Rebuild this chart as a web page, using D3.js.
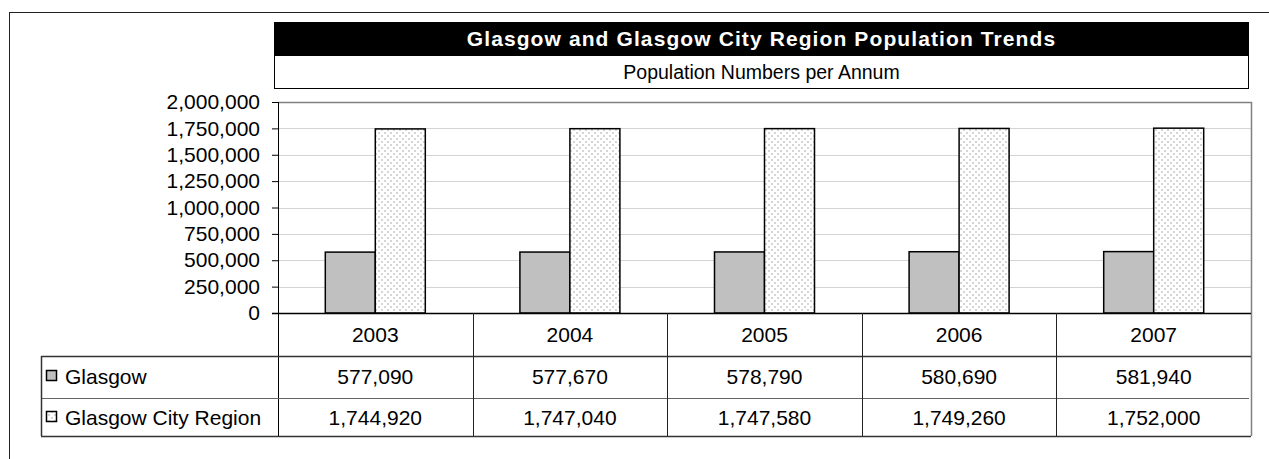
<!DOCTYPE html>
<html>
<head>
<meta charset="utf-8">
<script src="https://cdnjs.cloudflare.com/ajax/libs/d3/7.8.5/d3.min.js"></script>
<style>
  body { margin: 0; background: #fff; overflow: hidden; }
  svg { display: block; font-family: "Liberation Sans", Arial, sans-serif; }
</style>
</head>
<body>
<svg id="chart"></svg>
<script>
const years = ['2003', '2004', '2005', '2006', '2007'];
const seriesNames = ['Glasgow', 'Glasgow City Region'];
const glasgow = [577090, 577670, 578790, 580690, 581940];
const cityRegion = [1744920, 1747040, 1747580, 1749260, 1752000];
const yTicks = [0, 250000, 500000, 750000, 1000000, 1250000, 1500000, 1750000, 2000000];
const titleText = 'Glasgow and Glasgow City Region Population Trends';
const subtitleText = 'Population Numbers per Annum';

const width = 1269, height = 459;
const plot = { left: 278, right: 1251, top: 102, bottom: 313 };
const table = { left: 41, rowTops: [313, 356, 398, 436] };

const svg = d3.select('#chart').attr('width', width).attr('height', height);

// dotted fill for the city region series
const defs = svg.append('defs');
const pat = defs.append('pattern')
    .attr('id', 'dots')
    .attr('patternUnits', 'userSpaceOnUse')
    .attr('width', 6).attr('height', 6);
pat.append('rect').attr('width', 6).attr('height', 6).attr('fill', '#fff');
pat.append('rect').attr('x', 0).attr('y', 0).attr('width', 2).attr('height', 2).attr('fill', '#d6d6d6');
pat.append('rect').attr('x', 3).attr('y', 3).attr('width', 2).attr('height', 2).attr('fill', '#d6d6d6');

const fills = ['#c0c0c0', 'url(#dots)'];

// outer frame (runs off the right and bottom of the picture)
svg.append('rect')
    .attr('x', 9.5).attr('y', 12.5)
    .attr('width', 1400).attr('height', 600)
    .attr('fill', 'none').attr('stroke', '#222');

// title boxes
svg.append('rect')
    .attr('x', 274).attr('y', 22).attr('width', 975).attr('height', 33)
    .attr('fill', '#000');
svg.append('text')
    .attr('x', 761.5).attr('y', 45.5)
    .attr('text-anchor', 'middle')
    .attr('fill', '#fff')
    .attr('font-weight', 'bold')
    .attr('font-size', 21)
    .attr('letter-spacing', 1.1)
    .text(titleText);

svg.append('rect')
    .attr('x', 274.5).attr('y', 55.5).attr('width', 974).attr('height', 33)
    .attr('fill', '#fff').attr('stroke', '#000');
svg.append('text')
    .attr('x', 761.5).attr('y', 79)
    .attr('text-anchor', 'middle')
    .attr('fill', '#000')
    .attr('font-size', 19.5)
    .text(subtitleText);

// scales
const x = d3.scaleBand().domain(years).range([plot.left, plot.right]);
const xs = d3.scaleBand().domain(seriesNames)
    .range([0, x.bandwidth()])
    .paddingInner(0).paddingOuter(0.946);
const y = d3.scaleLinear().domain([0, 2000000]).range([plot.bottom, plot.top]);

// gridlines
svg.append('g')
    .selectAll('line')
    .data(yTicks.slice(1, -1))
    .join('line')
    .attr('x1', plot.left).attr('x2', plot.right)
    .attr('y1', d => Math.round(y(d)) + 0.5).attr('y2', d => Math.round(y(d)) + 0.5)
    .attr('stroke', '#d4d4d4');

// plot area border (top & right)
svg.append('path')
    .attr('d', `M${plot.left},${plot.top + 0.5}H${plot.right + 0.5}V${table.rowTops[3]}`)
    .attr('fill', 'none').attr('stroke', '#808080').attr('stroke-width', 1.5);

// bars
const series = [glasgow, cityRegion];
series.forEach((vals, si) => {
    svg.append('g')
        .selectAll('rect')
        .data(vals)
        .join('rect')
        .attr('x', (d, i) => x(years[i]) + xs(seriesNames[si]))
        .attr('y', d => y(d))
        .attr('width', xs.bandwidth())
        .attr('height', d => y(0) - y(d))
        .attr('fill', fills[si])
        .attr('stroke', '#000')
        .attr('stroke-width', 1.5);
});

// y axis
const yAxis = d3.axisLeft(y)
    .tickValues(yTicks)
    .tickFormat(d3.format(','))
    .tickSize(6)
    .tickSizeOuter(0)
    .tickPadding(12);
const ga = svg.append('g')
    .attr('transform', `translate(${plot.left},0)`)
    .call(yAxis);
ga.select('.domain').remove();
ga.selectAll('.tick line').attr('stroke', '#000');
ga.selectAll('.tick text')
    .attr('font-size', 21)
    .attr('font-family', '"Liberation Sans", Arial, sans-serif')
    .attr('fill', '#000');

// axis line + zero line
svg.append('line')
    .attr('x1', plot.left + 0.5).attr('x2', plot.left + 0.5)
    .attr('y1', plot.top).attr('y2', table.rowTops[3])
    .attr('stroke', '#000');
svg.append('line')
    .attr('x1', plot.left - 6).attr('x2', plot.right)
    .attr('y1', plot.bottom + 0.5).attr('y2', plot.bottom + 0.5)
    .attr('stroke', '#000').attr('stroke-width', 1.5);

// data table
const tbl = svg.append('g');
// horizontal rules
tbl.selectAll('line.h')
    .data(table.rowTops.slice(1))
    .join('line')
    .attr('class', 'h')
    .attr('x1', table.left).attr('x2', (d, i) => i === 1 ? plot.right - 2 : plot.right)
    .attr('y1', d => d + 0.5).attr('y2', d => d + 0.5)
    .attr('stroke', (d, i) => i === 1 ? '#666' : '#333')
    .attr('stroke-width', (d, i) => i === 1 ? 1 : 1.5);
// left border
tbl.append('line')
    .attr('x1', table.left + 0.5).attr('x2', table.left + 0.5)
    .attr('y1', table.rowTops[1]).attr('y2', table.rowTops[3])
    .attr('stroke', '#333').attr('stroke-width', 1.5);
// column dividers
tbl.selectAll('line.v')
    .data(years.slice(1))
    .join('line')
    .attr('class', 'v')
    .attr('x1', d => Math.round(x(d)) + 0.5).attr('x2', d => Math.round(x(d)) + 0.5)
    .attr('y1', table.rowTops[0]).attr('y2', table.rowTops[3])
    .attr('stroke', '#222');

// category labels
tbl.selectAll('text.cat')
    .data(years)
    .join('text')
    .attr('class', 'cat')
    .attr('x', d => x(d) + x.bandwidth() / 2)
    .attr('y', 342)
    .attr('text-anchor', 'middle')
    .attr('font-size', 21)
    .text(d => d);

// values rows
const rowMid = [384, 425];
series.forEach((vals, si) => {
    tbl.append('g')
        .selectAll('text')
        .data(vals)
        .join('text')
        .attr('x', (d, i) => x(years[i]) + x.bandwidth() / 2)
        .attr('y', rowMid[si])
        .attr('text-anchor', 'middle')
        .attr('font-size', 21)
        .text(d => d3.format(',')(d));

    tbl.append('rect')
        .attr('x', 46.5).attr('y', rowMid[si] - 13.5)
        .attr('width', 10).attr('height', 10)
        .attr('fill', fills[si])
        .attr('stroke', '#000').attr('stroke-width', 1.5);

    tbl.append('text')
        .attr('x', 65)
        .attr('y', rowMid[si])
        .attr('font-size', 21)
        .text(seriesNames[si]);
});
</script>
</body>
</html>
